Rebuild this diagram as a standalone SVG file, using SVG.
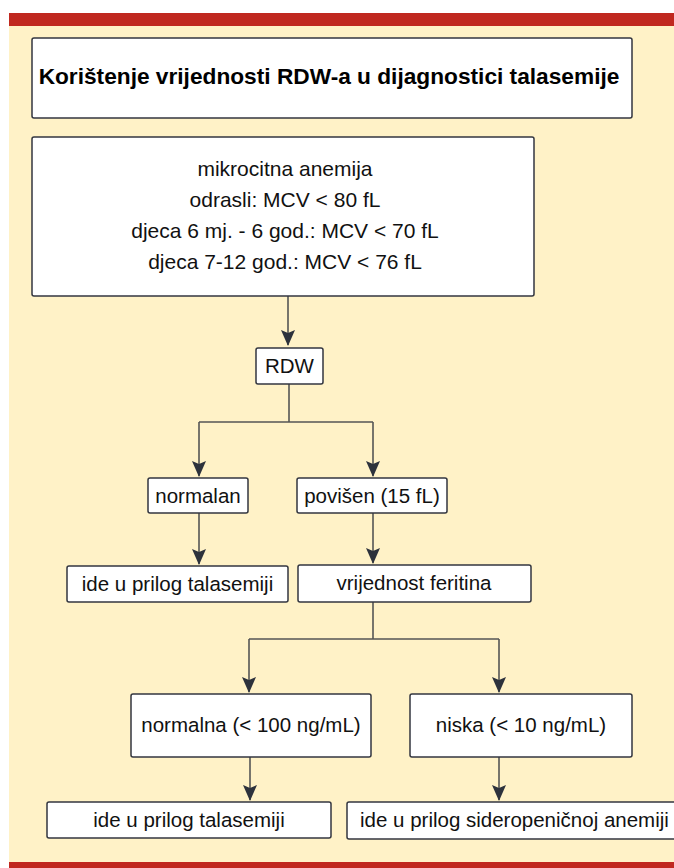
<svg xmlns="http://www.w3.org/2000/svg" width="674" height="868" viewBox="0 0 674 868">
<defs>
<style>
.box{fill:#fff;stroke:#333640;stroke-width:1.5}
.t{font-family:"Liberation Sans",Arial,sans-serif;font-size:20.5px;fill:#111;text-anchor:middle}
.m{font-size:21px}
.title{font-family:"Liberation Sans",Arial,sans-serif;font-size:22.7px;font-weight:bold;fill:#000;text-anchor:middle}
.c{fill:none;stroke:#555;stroke-width:1.6}
</style>
<marker id="ah" markerUnits="userSpaceOnUse" markerWidth="14" markerHeight="16" viewBox="0 0 14 16" refX="7" refY="15" orient="0">
<path d="M0,0 L7,3 L14,0 L7,16 Z" fill="#2d323c"/>
</marker>
</defs>
<rect x="0" y="0" width="674" height="868" fill="#fff"/>
<rect x="9" y="26" width="665" height="837" fill="#FFF2C7"/>
<rect x="9" y="13" width="665" height="13" fill="#C0281F"/>
<rect x="9" y="862" width="665" height="6" fill="#C0281F"/>

<g id="connectors">
<path class="c" d="M288,296 V345" marker-end="url(#ah)"/>
<path class="c" d="M289,384 V422"/>
<path class="c" d="M199,422 H373"/>
<path class="c" d="M199,422 V476" marker-end="url(#ah)"/>
<path class="c" d="M373,422 V476" marker-end="url(#ah)"/>
<path class="c" d="M199,513 V564" marker-end="url(#ah)"/>
<path class="c" d="M373,513 V563" marker-end="url(#ah)"/>
<path class="c" d="M373,602 V639"/>
<path class="c" d="M249,639 H499"/>
<path class="c" d="M249,639 V692" marker-end="url(#ah)"/>
<path class="c" d="M499,639 V692" marker-end="url(#ah)"/>
<path class="c" d="M250,757 V800" marker-end="url(#ah)"/>
<path class="c" d="M499,757 V800" marker-end="url(#ah)"/>
</g>

<g id="title">
<rect class="box" x="32" y="38" width="600" height="80" rx="2"/>
<text class="title" x="329" y="84">Korištenje vrijednosti RDW-a u dijagnostici talasemije</text>
</g>
<g id="mikrocitna">
<rect class="box" x="32" y="137" width="502" height="159" rx="2"/>
<text class="t m" x="285" y="176">mikrocitna anemija</text>
<text class="t m" x="285" y="207">odrasli: MCV &lt; 80 fL</text>
<text class="t m" x="285" y="238">djeca 6 mj. - 6 god.: MCV &lt; 70 fL</text>
<text class="t m" x="285" y="269">djeca 7-12 god.: MCV &lt; 76 fL</text>
</g>
<g id="rdw">
<rect class="box" x="256" y="348" width="67" height="36" rx="2"/>
<text class="t" x="289.5" y="373">RDW</text>
</g>
<g id="normalan">
<rect class="box" x="148" y="478" width="100" height="35" rx="2"/>
<text class="t" x="198" y="503">normalan</text>
</g>
<g id="povisen">
<rect class="box" x="297" y="478" width="150" height="35" rx="2"/>
<text class="t" x="372" y="503">povišen (15 fL)</text>
</g>
<g id="talasemija1">
<rect class="box" x="67" y="566" width="221" height="36" rx="2"/>
<text class="t" x="177.5" y="591">ide u prilog talasemiji</text>
</g>
<g id="feritin">
<rect class="box" x="298" y="565" width="233" height="37" rx="2"/>
<text class="t" x="414" y="590">vrijednost feritina</text>
</g>
<g id="normalna">
<rect class="box" x="131" y="694" width="240" height="63" rx="2"/>
<text class="t" x="251" y="732">normalna (&lt; 100 ng/mL)</text>
</g>
<g id="niska">
<rect class="box" x="410" y="694" width="222" height="63" rx="2"/>
<text class="t" x="521" y="732">niska (&lt; 10 ng/mL)</text>
</g>
<g id="talasemija2">
<rect class="box" x="47" y="802" width="284" height="36" rx="2"/>
<text class="t" x="189" y="827">ide u prilog talasemiji</text>
</g>
<g id="sideropenicna">
<rect class="box" x="347" y="802" width="340" height="37" rx="2"/>
<text class="t" x="360" y="827" style="text-anchor:start">ide u prilog sideropeničnoj anemiji</text>
</g>
</svg>
